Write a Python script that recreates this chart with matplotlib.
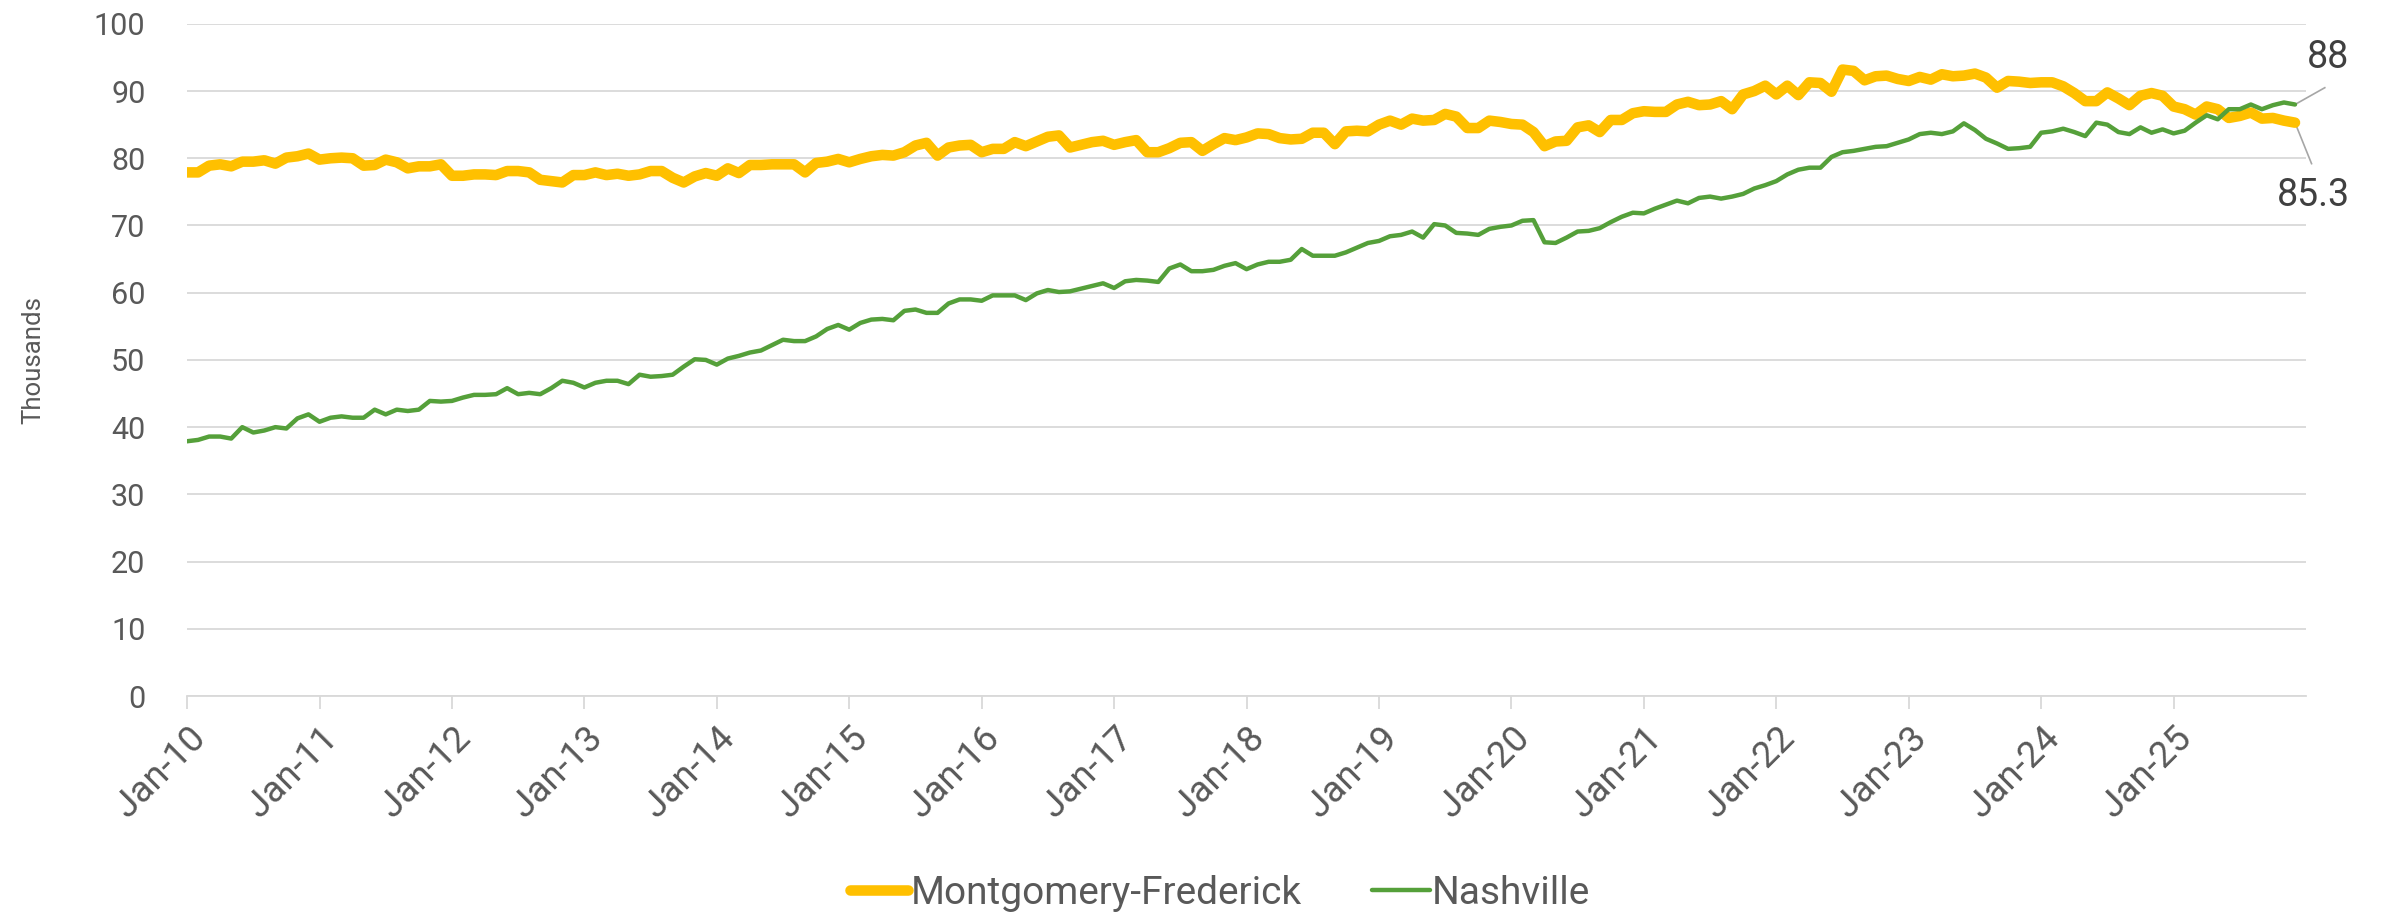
import matplotlib
matplotlib.use("Agg")
import matplotlib.pyplot as plt
import numpy as np
import pandas as pd

# monthly values, thousands, Jan-2010 .. Dec-2025
montgomery = [
    77.9, 77.9, 78.9, 79.1, 78.8, 79.5, 79.5, 79.7, 79.2, 80.1, 80.3, 80.7,  # 2010
    79.8, 80.0, 80.1, 80.0, 78.9, 79.0, 79.8, 79.4, 78.5, 78.8, 78.8, 79.1,  # 2011
    77.4, 77.4, 77.6, 77.6, 77.5, 78.1, 78.1, 77.9, 76.8, 76.6, 76.4, 77.5,  # 2012
    77.5, 77.9, 77.5, 77.7, 77.4, 77.6, 78.1, 78.1, 77.1, 76.4, 77.3, 77.8,  # 2013
    77.4, 78.5, 77.8, 79.0, 79.0, 79.1, 79.1, 79.1, 77.9, 79.3, 79.5, 79.9,  # 2014
    79.4, 79.9, 80.3, 80.5, 80.4, 80.9, 81.9, 82.3, 80.4, 81.6, 81.9, 82.0,  # 2015
    80.9, 81.4, 81.4, 82.4, 81.8, 82.5, 83.2, 83.4, 81.6, 82.0, 82.4, 82.6,  # 2016
    82.0, 82.4, 82.7, 80.9, 80.9, 81.5, 82.3, 82.4, 81.1, 82.1, 83.0, 82.7,  # 2017
    83.1, 83.7, 83.6, 83.0, 82.8, 82.9, 83.8, 83.8, 82.1, 84.0, 84.1, 84.0,  # 2018
    85.0, 85.6, 85.0, 85.9, 85.6, 85.7, 86.6, 86.2, 84.5, 84.5, 85.6, 85.4,  # 2019
    85.1, 85.0, 83.9, 81.8, 82.5, 82.6, 84.6, 84.9, 83.9, 85.7, 85.7, 86.7,  # 2020
    87.0, 86.9, 86.9, 88.0, 88.4, 87.9, 88.0, 88.5, 87.3, 89.5, 90.0, 90.8,  # 2021
    89.5, 90.8, 89.4, 91.3, 91.2, 89.9, 93.2, 93.0, 91.6, 92.2, 92.3, 91.8,  # 2022
    91.5, 92.1, 91.7, 92.5, 92.2, 92.3, 92.6, 92.0, 90.5, 91.5, 91.4, 91.2,  # 2023
    91.3, 91.3, 90.7, 89.7, 88.5, 88.5, 89.8, 88.9, 87.9, 89.3, 89.7, 89.3,  # 2024
    87.7, 87.3, 86.5, 87.7, 87.3, 86.0, 86.3, 86.8, 85.9, 86.0, 85.6, 85.3,  # 2025
]
nashville = [
    37.9, 38.1, 38.6, 38.6, 38.3, 40.0, 39.2, 39.5, 40.0, 39.8, 41.3, 41.9,  # 2010
    40.8, 41.4, 41.6, 41.4, 41.4, 42.6, 41.9, 42.6, 42.4, 42.6, 43.9, 43.8,  # 2011
    43.9, 44.4, 44.8, 44.8, 44.9, 45.8, 44.9, 45.1, 44.9, 45.8, 46.9, 46.6,  # 2012
    45.9, 46.6, 46.9, 46.9, 46.4, 47.8, 47.5, 47.6, 47.8, 49.0, 50.1, 50.0,  # 2013
    49.3, 50.2, 50.6, 51.1, 51.4, 52.2, 53.0, 52.8, 52.8, 53.5, 54.6, 55.2,  # 2014
    54.5, 55.5, 56.0, 56.1, 55.9, 57.3, 57.5, 57.0, 57.0, 58.4, 59.0, 59.0,  # 2015
    58.8, 59.6, 59.6, 59.6, 58.9, 59.9, 60.4, 60.1, 60.2, 60.6, 61.0, 61.4,  # 2016
    60.7, 61.7, 61.9, 61.8, 61.6, 63.6, 64.2, 63.2, 63.2, 63.4, 64.0, 64.4,  # 2017
    63.5, 64.2, 64.6, 64.6, 64.9, 66.5, 65.5, 65.5, 65.5, 66.0, 66.7, 67.4,  # 2018
    67.7, 68.4, 68.6, 69.1, 68.2, 70.2, 70.0, 68.9, 68.8, 68.6, 69.5, 69.8,  # 2019
    70.0, 70.7, 70.8, 67.5, 67.4, 68.2, 69.1, 69.2, 69.6, 70.5, 71.3, 71.9,  # 2020
    71.8, 72.5, 73.1, 73.7, 73.3, 74.1, 74.3, 74.0, 74.3, 74.7, 75.5, 76.0,  # 2021
    76.6, 77.6, 78.3, 78.6, 78.6, 80.2, 80.9, 81.1, 81.4, 81.7, 81.8, 82.3,  # 2022
    82.8, 83.6, 83.8, 83.6, 84.0, 85.2, 84.2, 82.9, 82.2, 81.4, 81.5, 81.7,  # 2023
    83.8, 84.0, 84.4, 83.9, 83.3, 85.3, 85.0, 83.9, 83.6, 84.6, 83.8, 84.3,  # 2024
    83.7, 84.1, 85.3, 86.4, 85.8, 87.3, 87.3, 88.0, 87.3, 87.9, 88.3, 88.0,  # 2025
]
dates = pd.date_range("2010-01-01", periods=len(montgomery), freq="MS")
tick_labels = [d.strftime("%b-%y") for d in pd.date_range("2010-01-01", "2025-01-01", freq="YS")]

YELLOW = "#FFC000"
GREEN = "#55A03A"
TEXT = "#595959"
GRID = "#D9D9D9"

plt.rcParams["font.family"] = ["Roboto", "DejaVu Sans"]

fig = plt.figure(figsize=(23.83, 9.17), dpi=100)
ax = fig.add_axes([0.0785, 0.241, 0.8892, 0.733])

x = np.arange(len(dates))
ax.plot(x, montgomery, color=YELLOW, lw=7.6, solid_capstyle="round",
        solid_joinstyle="round", label="Montgomery-Frederick", zorder=3)
ax.plot(x, nashville, color=GREEN, lw=3.2, solid_capstyle="round",
        solid_joinstyle="round", label="Nashville", zorder=4)

ax.set_xlim(0, len(dates))
ax.set_ylim(0, 100)
ax.set_yticks(range(0, 101, 10))
ax.set_xticks(range(0, len(dates), 12))
ax.set_xticklabels(tick_labels, rotation=45, ha="right", rotation_mode="anchor")

ax.grid(axis="y", color=GRID, lw=1.3)
ax.set_axisbelow(True)
for s in ["top", "right", "left"]:
    ax.spines[s].set_visible(False)
ax.spines["bottom"].set_color(GRID)
ax.spines["bottom"].set_linewidth(1.3)
ax.tick_params(axis="y", length=0, pad=30, labelsize=22, labelcolor=TEXT)
ax.tick_params(axis="x", length=9, width=1.3, color=GRID, pad=8,
               labelsize=26.5, labelcolor=TEXT)
ax.set_ylabel("Thousands", fontsize=18.5, color=TEXT, labelpad=35)

# end-point data labels with leader lines
last = len(dates) - 1
ax.plot([last, last + 2.7], [nashville[-1], 90.5], color="#A6A6A6", lw=1.2, clip_on=False)
ax.text(last + 3.0, 95.0, f"{nashville[-1]:g}", fontsize=27, color="#404040",
        ha="center", va="center", clip_on=False)
ax.plot([last, last + 1.5], [montgomery[-1], 79.2], color="#A6A6A6", lw=1.2, clip_on=False)
ax.text(last + 1.7, 74.4, f"{montgomery[-1]:g}", fontsize=27, color="#404040",
        ha="center", va="center", clip_on=False)

fig.legend(loc="center", bbox_to_anchor=(0.512, 0.026), ncol=2, frameon=False,
           fontsize=28, labelcolor=TEXT, handlelength=1.5, handletextpad=0.05,
           columnspacing=1.8)

fig.savefig("out.png", dpi=100)
